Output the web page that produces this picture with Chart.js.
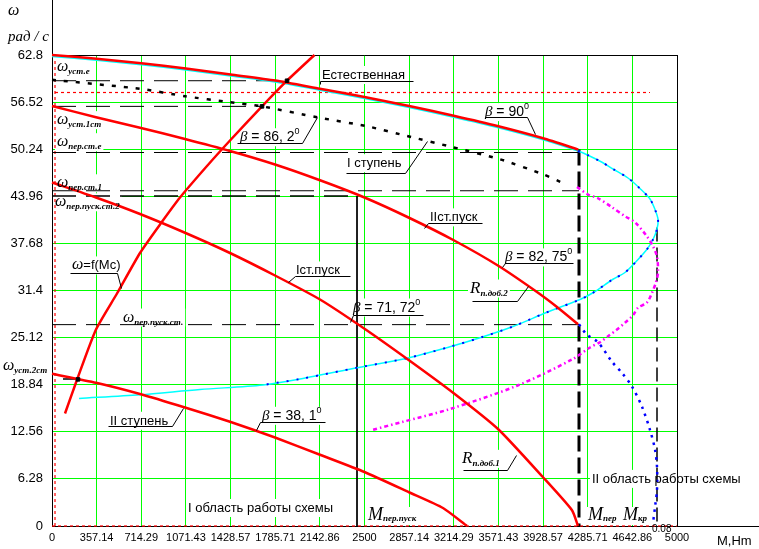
<!DOCTYPE html>
<html>
<head>
<meta charset="utf-8">
<script src="https://cdn.jsdelivr.net/npm/chart.js@4.4.0/dist/chart.umd.min.js"></script>
<style>
    html, body { margin: 0; padding: 0; background: #fff; }
    #wrap { width: 759px; height: 549px; }
</style>
</head>
<body>
<div id="wrap"><canvas id="chart"></canvas></div>
<script>
// tick labels
const xTickLabels = ['0', '357.14', '714.29', '1071.43', '1428.57', '1785.71', '2142.86', '2500',
    '2857.14', '3214.29', '3571.43', '3928.57', '4285.71', '4642.86', '5000'];
const yTickLabels = ['0', '6.28', '12.56', '18.84', '25.12', '31.4', '37.68', '43.96', '50.24', '56.52', '62.8'];

// characteristics, points are [M (Нм), ω (рад/с)]
const natural = [[0, 62.8], [357, 62.3], [714, 61.7], [1071, 61.0], [1429, 60.2], [1786, 59.4], [2143, 58.3],
    [2500, 57.2], [2857, 56.0], [3214, 54.7], [3571, 53.3], [3929, 51.7], [4210, 50.2]];
const naturalCyan = [[0, 62.6], [357, 62.1], [714, 61.5], [1071, 60.8], [1429, 60.0], [1786, 59.2], [2143, 58.1],
    [2500, 57.0], [2857, 55.8], [3214, 54.5], [3571, 53.1], [3929, 51.5], [4208, 50.0], [4280, 49.5], [4400, 48.5],
    [4488, 47.6], [4608, 46.4], [4704, 45.0], [4784, 43.6], [4824, 42.2], [4848, 40.9], [4840, 39.6], [4808, 38.2],
    [4760, 36.9], [4664, 35.1], [4584, 33.8], [4488, 32.9], [4328, 31.1], [4224, 30.2], [3960, 28.5], [3688, 26.6],
    [3424, 25.1], [3184, 23.9], [2848, 22.4], [2440, 21.1], [1984, 19.6], [1688, 18.8], [1184, 18.2], [704, 17.5],
    [216, 17.0]];
const blueUpper = naturalCyan.slice(12, 37);
const blueLower = [[4216, 26.9], [4280, 25.5], [4368, 24.5], [4480, 21.9], [4560, 20.4], [4640, 18.6], [4720, 15.9],
    [4784, 12.8], [4824, 10.2], [4840, 7.9], [4840, 4.8], [4824, 2.5], [4808, 0.4]];
const magenta = [[4200, 45.2], [4288, 44.2], [4368, 43.7], [4480, 42.5], [4584, 41.3], [4664, 40.5], [4760, 38.6],
    [4808, 37.3], [4840, 35.9], [4848, 33.8], [4832, 32.5], [4800, 31.1], [4760, 29.8], [4688, 29.1], [4648, 28.1],
    [4584, 27.1], [4520, 26.2], [4448, 25.3], [4384, 24.5], [4304, 23.8], [4160, 22.2], [3720, 18.7], [3184, 15.6],
    [2808, 13.9], [2560, 12.8]];
const firstStage = [[0, 59.5], [704, 58.3], [1064, 57.3], [1424, 56.5], [1680, 55.95], [2120, 54.5], [2520, 53.3],
    [2840, 52.0], [3208, 50.5], [3584, 48.9], [3928, 46.9], [4104, 45.6]];
const secondStart = [[0, 56.0], [352, 54.5], [704, 53.1], [1064, 51.6], [1424, 50.0], [1784, 48.2], [2144, 46.1],
    [2500, 43.8], [2856, 41.1], [3214, 38.1], [3570, 34.7], [3880, 31.2], [4040, 29.2], [4208, 26.9]];
const firstStart = [[0, 45.8], [352, 43.8], [704, 41.6], [1064, 39.1], [1424, 36.4], [1784, 33.4], [2144, 30.2],
    [2500, 26.3], [2856, 22.1], [3214, 17.7], [3570, 12.9], [3928, 6.5], [4160, 2.1], [4208, 0]];
const secondStage = [[0, 20.3], [352, 19.1], [704, 17.6], [1064, 15.8], [1424, 13.9], [1784, 11.8], [2144, 9.5],
    [2500, 7.2], [2856, 4.5], [3128, 2.4], [3320, 0]];
const loadCurve = [[104, 15.0], [200, 19.5], [352, 26.2], [520, 31.0], [704, 36.4], [864, 40.2], [1024, 43.8],
    [1240, 48.0], [1424, 51.4], [1680, 55.95], [1880, 59.37], [2100, 62.8]];
const markers = [[208, 19.55], [1680, 55.95], [1880, 59.37]];

// levels and verticals
const wUstE = [[0, 59.37], [1880, 59.37]];
const wUst1 = [[0, 55.95], [1680, 55.95]];
const wPerE = [[0, 49.8], [4216, 49.8]];
const wPer1 = [[0, 44.7], [4216, 44.7]];
const wPerPusk2 = [[0, 44.0], [2440, 44.0]];
const wPerPusk = [[0, 26.85], [4216, 26.85]];
const wUst2 = [[88, 19.6], [208, 19.6]];
const redLevel = [[24, 57.8], [4784, 57.8]];
const redVert = [[24, 62.0], [24, 0]];
const redBase = [[0, 0], [5000, 0]];
const mPer = [[4216, 50.2], [4216, 0]];
const mKr = [[4840, 39.8], [4840, 0]];
const mPerPusk = [[2440, 44.0], [2440, 0]];

const F = {
    it: size => 'italic ' + size + 'px "Liberation Serif"',
    sub: 'italic bold 9px "Liberation Serif"',
    txt: '13px "Liberation Sans"',
    num: '14px "Liberation Sans"',
    sup: '9px "Liberation Sans"'
};
const txt = t => ({ t, f: F.txt });
const num = t => ({ t, f: F.num });
const sup = t => ({ t, f: F.sup, dy: -7 });
const sub = (t, dy = 3) => ({ t, f: F.sub, dy });
const it = (t, size) => ({ t, f: F.it(size) });
const omega = () => it('ω', 16);
const beta = () => it('β', 15);

const notes = [
    { at: [2160, 59.6], parts: [txt('Естественная')], lead: [[2144, 58.93], [2144, 59.33], [2888, 59.33]] },
    { at: [3464, 54.65], parts: [beta(), num(' = 90'), sup('0')], lead: [[3464, 54.48], [3800, 54.48], [3864, 52.26]] },
    { at: [1504, 51.3], parts: [beta(), num(' = 86, 2'), sup('0')], lead: [[1480, 51.04], [2000, 51.04], [2120, 54.52]] },
    { at: [2360, 47.84], parts: [txt('I ступень')], lead: [[2352, 47.13], [2824, 47.13], [3000, 51.31]] },
    { at: [3024, 40.62], parts: [txt('IIст.пуск')], lead: [[2976, 39.69], [3008, 40.45], [3440, 40.45]] },
    { at: [3624, 35.28], parts: [beta(), num(' = 82, 75'), sup('0')], lead: [[3600, 34.47], [3624, 35.01], [4168, 35.01]] },
    { at: [3344, 31.13], parts: [it('R', 17), sub('п.доб.2')], lead: [[3360, 29.97], [3720, 29.97], [3808, 31.94]] },
    { at: [160, 34.21], parts: [omega(), txt('=f(Mc)')], lead: [[144, 33.77], [520, 33.77], [552, 31.67]] },
    { at: [1952, 33.54], parts: [txt('Iст.пуск')], lead: [[1888, 32.6], [1944, 33.4], [2384, 33.4]] },
    { at: [2408, 28.6], parts: [beta(), num(' = 71, 72'), sup('0')], lead: [[2384, 27.26], [2408, 28.19], [2968, 28.19]] },
    { at: [568, 27.26], parts: [omega(), sub('пер.пуск.ст.')] },
    { at: [464, 13.5], parts: [txt('II ступень')], lead: [[448, 13.27], [960, 13.27], [1048, 15.77]] },
    { at: [1680, 14.16], parts: [beta(), num(' = 38, 1'), sup('0')], lead: [[1632, 12.83], [1664, 13.8], [2184, 13.8]] },
    { at: [3280, 8.42], parts: [it('R', 17), sub('п.доб.1')], lead: [[3288, 7.48], [3640, 7.48], [3712, 9.49]] },
    { at: [1088, 1.87], parts: [txt('I область работы схемы')] },
    { at: [4320, 5.75], parts: [txt('II область работы схемы')] },
    { at: [2528, 0.8], parts: [it('M', 18), sub('пер.пуск', 1)] },
    { at: [4288, 0.8], parts: [it('M', 18), sub('пер', 1)] },
    { at: [4568, 0.8], parts: [it('M', 18), sub('кр', 1)] },
    { at: [4800, -0.8], parts: [{ t: '0.08', f: '10px "Liberation Sans"' }], noBox: true },
    { at: [40, 60.66], parts: [omega(), sub('уст.е')] },
    { at: [40, 53.58], parts: [omega(), sub('уст.1ст')] },
    { at: [40, 50.64], parts: [omega(), sub('пер.ст.е')] },
    { at: [40, 45.16], parts: [omega(), sub('пер.ст.1')] },
    { at: [24, 42.63], parts: [omega(), sub('пер.пуск.ст.2')] },
    { at: [-392, 20.84], parts: [omega(), sub('уст.2ст')] }
];

function partsWidth(ctx, parts) {
    let w = 0;
    parts.forEach(p => { ctx.font = p.f; w += ctx.measureText(p.t).width; });
    return w;
}

const notesPlugin = {
    id: 'notes',
    beforeDatasetsDraw(chart) {
        const { ctx, chartArea: a, scales: { x, y } } = chart;
        ctx.save();
        // text regions are opaque, they break the grid
        ctx.fillStyle = '#fff';
        notes.forEach(n => {
            if (n.noBox) return;
            const px = x.getPixelForValue(n.at[0]);
            const py = y.getPixelForValue(n.at[1]);
            const w = partsWidth(ctx, n.parts);
            ctx.fillRect(px - 2, py - 13, w + 4, 18);
        });
        // frame
        ctx.strokeStyle = '#000';
        ctx.lineWidth = 1;
        ctx.beginPath();
        ctx.moveTo(a.left + 0.5, 0); ctx.lineTo(a.left + 0.5, a.bottom);
        ctx.moveTo(a.left, a.top + 0.5); ctx.lineTo(a.right, a.top + 0.5);
        ctx.moveTo(a.right + 0.5, a.top); ctx.lineTo(a.right + 0.5, a.bottom);
        ctx.moveTo(a.left, a.bottom + 0.5); ctx.lineTo(chart.width, a.bottom + 0.5);
        ctx.stroke();
        ctx.restore();
    },
    afterDatasetsDraw(chart) {
        const { ctx, scales: { x, y } } = chart;
        ctx.save();
        ctx.fillStyle = '#000';
        ctx.strokeStyle = '#000';
        ctx.lineWidth = 1;
        ctx.textBaseline = 'alphabetic';
        notes.forEach(n => {
            let px = x.getPixelForValue(n.at[0]);
            const py = y.getPixelForValue(n.at[1]);
            n.parts.forEach(p => {
                ctx.font = p.f;
                ctx.fillText(p.t, px, py + (p.dy || 0));
                px += ctx.measureText(p.t).width;
            });
            if (n.lead) {
                ctx.beginPath();
                n.lead.forEach(([m, w], i) => {
                    const lx = Math.round(x.getPixelForValue(m)) + 0.5;
                    const ly = Math.round(y.getPixelForValue(w)) + 0.5;
                    if (i === 0) ctx.moveTo(lx, ly); else ctx.lineTo(lx, ly);
                });
                ctx.stroke();
            }
        });
        // axis titles
        ctx.font = F.it(16);
        ctx.fillText('ω', 8, 15);
        ctx.font = F.it(15);
        ctx.fillText('рад / с', 8, 41);
        ctx.font = F.txt;
        ctx.fillText('M,Hm', 717, 545);
        ctx.restore();
    }
};

const pts = arr => arr.map(([m, w]) => ({ x: m, y: w }));
const curve = (arr, color, width, dash, tension) => ({
    data: pts(arr),
    showLine: true,
    borderColor: color,
    borderWidth: width,
    borderDash: dash || [],
    pointRadius: 0,
    fill: false,
    tension: tension || 0,
    clip: false
});

const datasets = [
    {
        data: pts(markers), showLine: false, pointStyle: 'rect', pointRadius: 2.5,
        backgroundColor: '#000', borderColor: '#000', clip: false
    },
    curve(natural, '#ff0000', 2.5, null, 0.2),
    curve(secondStart, '#ff0000', 2.5, null, 0.2),
    curve(firstStart, '#ff0000', 2.5, null, 0.2),
    curve(secondStage, '#ff0000', 2.5, null, 0.2),
    curve(loadCurve, '#ff0000', 2.5, null, 0.2),
    curve(blueUpper, '#0000ff', 2, [2, 8], 0.3),
    curve(blueLower, '#0000ff', 2.5, [2.5, 5], 0.3),
    curve(magenta, '#ff00ff', 2.5, [4, 3, 1.5, 3], 0.3),
    curve(naturalCyan, '#00ffff', 1.5, null, 0.3),
    curve(firstStage, '#000', 2.5, [4, 8], 0.2),
    curve(wUstE, '#000', 1, [24, 10]),
    curve(wUst1, '#000', 1, [24, 10]),
    curve(wPerE, '#000', 1, [24, 10]),
    curve(wPer1, '#000', 1, [24, 10]),
    curve(wPerPusk2, '#000', 1.5, [24, 10]),
    curve(wPerPusk, '#000', 1, [24, 10]),
    curve(wUst2, '#000', 1.5),
    curve(mPer, '#000', 3, [16, 6]),
    curve(mKr, '#000', 1.5, [14, 6]),
    curve(mPerPusk, '#000', 1),
    curve(redLevel, '#ff0000', 1.2, [3, 3]),
    curve(redVert, '#ff0000', 1.2, [3, 3]),
    curve(redBase, '#ff0000', 1.2, [3, 3])
];

const gridColor = n => c => (c.index === 0 || c.index === n - 1) ? 'rgba(0,0,0,0)' : '#00ff00';

new Chart(document.getElementById('chart'), {
    type: 'scatter',
    data: { datasets },
    options: {
        responsive: true,
        maintainAspectRatio: false,
        animation: false,
        layout: { padding: { top: 55, right: 82, left: 0, bottom: 0 } },
        plugins: { legend: { display: false }, tooltip: { enabled: false } },
        scales: {
            x: {
                type: 'linear', min: 0, max: 5000,
                afterBuildTicks: ax => { ax.ticks = xTickLabels.map(s => ({ value: parseFloat(s) })); },
                afterFit: ax => { ax.height = 23; },
                ticks: {
                    callback: (v, i) => xTickLabels[i], color: '#000', padding: 5,
                    autoSkip: false, maxRotation: 0,
                    font: { family: 'Liberation Sans', size: 11 }
                },
                grid: { color: gridColor(xTickLabels.length), drawTicks: false, lineWidth: 1 },
                border: { display: false }
            },
            y: {
                type: 'linear', min: 0, max: 62.8,
                afterBuildTicks: ax => { ax.ticks = yTickLabels.map(s => ({ value: parseFloat(s) })); },
                afterFit: ax => { ax.width = 52; },
                ticks: {
                    callback: (v, i) => yTickLabels[i], color: '#000', padding: 9,
                    font: { family: 'Liberation Sans', size: 13 }
                },
                grid: { color: gridColor(yTickLabels.length), drawTicks: false, lineWidth: 1 },
                border: { display: false }
            }
        }
    },
    plugins: [notesPlugin]
});
</script>
</body>
</html>
